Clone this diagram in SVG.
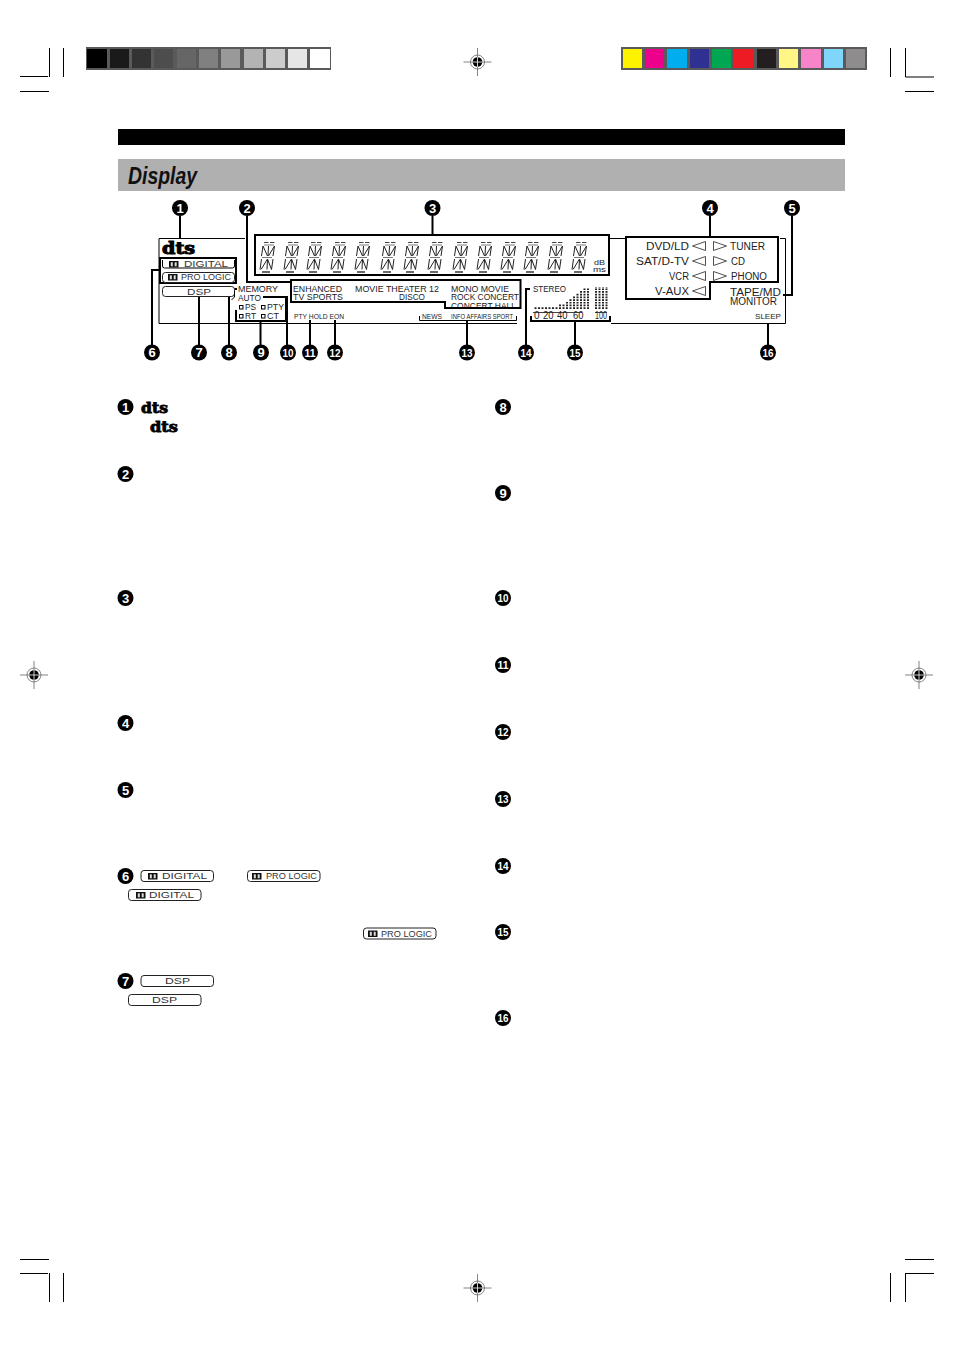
<svg xmlns="http://www.w3.org/2000/svg" xmlns:xlink="http://www.w3.org/1999/xlink" width="954" height="1351" viewBox="0 0 954 1351">
<style>
text{font-family:"Liberation Sans",Arial,sans-serif;fill:#222}
.n{font-size:9px}
.m{font-size:10px}
.s{font-size:8px}
.b{font-size:9.5px;fill:#333}
.nt{font-weight:700;font-size:13px;fill:#fff;text-anchor:middle}
.nd{font-weight:700;font-size:11px;fill:#fff;text-anchor:middle}
.dts{font-family:"DejaVu Serif","Liberation Serif",serif;font-weight:700;font-size:16px;fill:#000;stroke:#000;stroke-width:1}
.dts2{font-family:"DejaVu Serif","Liberation Serif",serif;font-weight:700;font-size:14px;fill:#000;stroke:#000;stroke-width:.8}
.ld{fill:none;stroke:#000;stroke-width:2}
.thin{fill:none;stroke:#000;stroke-width:1}
.box{fill:none;stroke:#000;stroke-width:2}
.crop{stroke:#000;stroke-width:1;fill:none}
.reg{stroke:#666;stroke-width:.8;fill:none}
.badge{fill:#fff;stroke:#222;stroke-width:1}
.tri{fill:#fff;stroke:#222;stroke-width:.8}
</style>
<defs>
<g id="digit" fill="none" stroke="#222" stroke-width="1">
<path d="M4 2.500h4.500M10 2.500h4.500" stroke-width="1.100" stroke="#444"/>
<path d="M4 5h10" stroke-width=".8" stroke="#555"/>
<path d="M3 6L1.500 16M8.500 6L8 16M14.500 6L13 16M3 6L7.500 16M14.500 6L8.500 16"/>
<path d="M2 17.500h10" stroke-width=".8" stroke="#555"/>
<path d="M1.500 19L0 29.500M7.500 19L7 29.500M13 19L11.500 29.500M7.500 19L1 29.500M7.500 19L11.500 29.500"/>
<path d="M2 32h8" stroke-width="1.600" stroke="#444"/>
</g>
<g id="dd">
<rect x="0" y="0" width="9.500" height="6.500" fill="#111"/>
<rect x="1.800" y="1.300" width="2" height="4" fill="#ddd"/>
<rect x="5.700" y="1.300" width="2" height="4" fill="#ddd"/>
</g>
<g id="regm">
<path class="reg" d="M-14 0H14M0 -14V14"/>
<circle class="reg" r="7"/>
<circle r="4.800" fill="#000"/>
<path d="M-5 0H5M0 -5V5" stroke="#fff" stroke-width=".8"/>
</g>
<clipPath id="hallclip"><rect x="445" y="300" width="75" height="7"/></clipPath>
</defs>
<rect width="954" height="1351" fill="#fff"/>

<g id="crop-marks">
<path class="crop" d="M20 76.500H48M49.500 48V77M63.500 48V77M20 91.500H49"/>
<path class="crop" d="M890.500 48V77M905.500 48V77H934M905 91.500H934"/>
<path class="crop" d="M20 1259.500H49M20 1273.500H48M49.500 1273V1302M63.500 1273V1302"/>
<path class="crop" d="M905 1259.500H934M905 1273.500H934M905.500 1273V1302M890.500 1273V1302"/>
</g>
<g id="registration-marks">
<use xlink:href="#regm" href="#regm" x="477.500" y="62"/>
<use xlink:href="#regm" href="#regm" x="34" y="675"/>
<use xlink:href="#regm" href="#regm" x="919" y="675"/>
<use xlink:href="#regm" href="#regm" x="477.500" y="1288"/>
</g>
<g id="gray-scale">
<rect x="86" y="47" width="245" height="23" fill="#5a5a5a"/>
<rect x="87" y="49" width="20" height="19" fill="#000"/>
<rect x="110" y="49" width="19" height="19" fill="#1a1a1a"/>
<rect x="132" y="49" width="19" height="19" fill="#333"/>
<rect x="154" y="49" width="19" height="19" fill="#4d4d4d"/>
<rect x="177" y="49" width="19" height="19" fill="#666"/>
<rect x="199" y="49" width="19" height="19" fill="#808080"/>
<rect x="221" y="49" width="19" height="19" fill="#999"/>
<rect x="244" y="49" width="19" height="19" fill="#b3b3b3"/>
<rect x="266" y="49" width="19" height="19" fill="#ccc"/>
<rect x="288" y="49" width="19" height="19" fill="#e6e6e6"/>
<rect x="310" y="49" width="20" height="19" fill="#fff"/>
</g>
<g id="color-scale">
<rect x="621" y="47" width="246" height="23" fill="#5a5a5a"/>
<rect x="623" y="49" width="19" height="19" fill="#fff200"/>
<rect x="645" y="49" width="19" height="19" fill="#ec008c"/>
<rect x="667" y="49" width="20" height="19" fill="#00aeef"/>
<rect x="690" y="49" width="19" height="19" fill="#2e3192"/>
<rect x="712" y="49" width="19" height="19" fill="#00a651"/>
<rect x="734" y="49" width="20" height="19" fill="#ed1c24"/>
<rect x="757" y="49" width="19" height="19" fill="#231f20"/>
<rect x="779" y="49" width="19" height="19" fill="#fff685"/>
<rect x="801" y="49" width="20" height="19" fill="#f783c8"/>
<rect x="824" y="49" width="19" height="19" fill="#7fd6fa"/>
<rect x="846" y="49" width="19" height="19" fill="#8e8c8d"/>
</g>
<g id="header">
<rect x="118" y="129" width="727" height="16" fill="#000"/>
<rect x="118" y="159" width="727" height="32" fill="#b0b0b0"/>
<text x="128" y="184" font-size="24" font-weight="700" font-style="italic" style="fill:#111" textLength="69" lengthAdjust="spacingAndGlyphs">Display</text>
</g>

<g id="connectors">
<path class="thin" d="M159 323.500V238.500H245M609 238.500H625M780 238.500H785.500V323.500H611M517 323.500H159"/>
<path class="ld" d="M180 216V238"/>
<path class="ld" d="M247 216V282H291"/>
<path class="ld" d="M432.500 216V235"/>
<path class="ld" d="M710 216V237"/>
<path class="ld" d="M792 216V295H783"/>
<path class="ld" d="M159 270H152V345"/>
<path class="ld" d="M199 297V345"/>
<path class="ld" d="M229 345V289H237"/>
<path class="ld" d="M260.500 321V345"/>
<path class="ld" d="M263 297H287V345"/>
<path class="ld" d="M310 320V345"/>
<path class="ld" d="M335 320V345"/>
<path class="ld" d="M467 321V345"/>
<path class="ld" d="M530 289H526V345"/>
<path class="ld" d="M575 321V345"/>
<path class="ld" d="M768 323V345"/>
</g>

<g id="display-panel">
<g id="digit-block">
<rect class="box" x="255" y="235" width="354" height="40"/>
<use xlink:href="#digit" href="#digit" x="260" y="240"/>
<use xlink:href="#digit" href="#digit" x="284" y="240"/>
<use xlink:href="#digit" href="#digit" x="307" y="240"/>
<use xlink:href="#digit" href="#digit" x="331" y="240"/>
<use xlink:href="#digit" href="#digit" x="355" y="240"/>
<use xlink:href="#digit" href="#digit" x="381" y="240"/>
<use xlink:href="#digit" href="#digit" x="404" y="240"/>
<use xlink:href="#digit" href="#digit" x="428" y="240"/>
<use xlink:href="#digit" href="#digit" x="453" y="240"/>
<use xlink:href="#digit" href="#digit" x="477" y="240"/>
<use xlink:href="#digit" href="#digit" x="501" y="240"/>
<use xlink:href="#digit" href="#digit" x="524" y="240"/>
<use xlink:href="#digit" href="#digit" x="548" y="240"/>
<use xlink:href="#digit" href="#digit" x="572" y="240"/>
<text class="s" x="594" y="265" textLength="11" lengthAdjust="spacingAndGlyphs">dB</text>
<text class="s" x="593" y="272" textLength="13" lengthAdjust="spacingAndGlyphs">ms</text>
</g>
<g id="format-block">
<rect x="160" y="258" width="76" height="25" fill="none" stroke="#000" stroke-width="2"/>
<text class="dts" x="162" y="254" textLength="33" lengthAdjust="spacingAndGlyphs">dts</text>
<path class="thin" d="M162.500 260v6q0 2 2 2h68q2 0 2-2v-6"/>
<use xlink:href="#dd" href="#dd" x="169" y="261"/>
<text class="b" x="184" y="267" textLength="44" lengthAdjust="spacingAndGlyphs">DIGITAL</text>
<rect class="badge" x="162.500" y="272.500" width="72" height="10" rx="3"/>
<use xlink:href="#dd" href="#dd" x="168" y="274"/>
<text class="b" x="181" y="280" textLength="50" lengthAdjust="spacingAndGlyphs" style="font-size:9px">PRO LOGIC</text>
<rect class="badge" x="162.500" y="286.500" width="72" height="10" rx="3"/>
<text class="b" x="187" y="294.500" textLength="24" lengthAdjust="spacingAndGlyphs">DSP</text>
</g>
<g id="memory-block">
<path class="thin" d="M234.500 291v6l-3 3"/>
<text class="n" x="238" y="292" textLength="40" lengthAdjust="spacingAndGlyphs">MEMORY</text>
<text class="n" x="238" y="301" textLength="23" lengthAdjust="spacingAndGlyphs">AUTO</text>
<path class="ld" d="M236 310V321H286V297"/>
<rect class="thin" x="239.500" y="305.500" width="3.500" height="3.500"/>
<rect class="thin" x="261.500" y="305.500" width="3.500" height="3.500"/>
<rect class="thin" x="239.500" y="314.500" width="3.500" height="3.500"/>
<rect class="thin" x="261.500" y="314.500" width="3.500" height="3.500"/>
<text class="n" x="245" y="310" textLength="11" lengthAdjust="spacingAndGlyphs">PS</text>
<text class="n" x="267" y="310" textLength="17" lengthAdjust="spacingAndGlyphs">PTY</text>
<text class="n" x="245" y="319" textLength="11" lengthAdjust="spacingAndGlyphs">RT</text>
<text class="n" x="267" y="319" textLength="12" lengthAdjust="spacingAndGlyphs">CT</text>
<text class="s" x="294" y="319" textLength="50" lengthAdjust="spacingAndGlyphs">PTY HOLD EON</text>
</g>
<g id="program-block">
<path class="box" d="M291 280H520.500V308H445V302H291Z"/>
<text class="n" x="293" y="292" textLength="49" lengthAdjust="spacingAndGlyphs">ENHANCED</text>
<text class="n" x="293" y="300" textLength="50" lengthAdjust="spacingAndGlyphs">TV SPORTS</text>
<text class="n" x="355" y="292" textLength="84" lengthAdjust="spacingAndGlyphs">MOVIE THEATER 12</text>
<text class="n" x="399" y="300" textLength="26" lengthAdjust="spacingAndGlyphs">DISCO</text>
<text class="n" x="451" y="292" textLength="58" lengthAdjust="spacingAndGlyphs">MONO MOVIE</text>
<text class="n" x="451" y="300" textLength="68" lengthAdjust="spacingAndGlyphs">ROCK CONCERT</text>
<text class="n" x="451" y="309" textLength="65" lengthAdjust="spacingAndGlyphs" clip-path="url(#hallclip)">CONCERT HALL</text>
<path class="thin" d="M419.500 316V320.500H516.500V316" stroke-width="1.500"/>
<text class="s" x="422" y="319" textLength="20" lengthAdjust="spacingAndGlyphs">NEWS</text>
<text class="s" x="451" y="319" textLength="62" lengthAdjust="spacingAndGlyphs">INFO AFFAIRS SPORT</text>
</g>
<g id="meter-block">
<text class="n" x="533" y="292" textLength="33" lengthAdjust="spacingAndGlyphs">STEREO</text>
<path d="M535.500 309V306.500M539 309V306.500M542.500 309V306.500M546 309V306.500M549.500 309V306.500M553 309V306.500M556.500 309V306.500M560 309V304M563.500 309V304M567 309V301.500M570.500 309V298.500M574 309V296M577.500 309V293.500M581 309V291M584.500 309V288.500M588 309V288.500M596 309V287M599.500 309V287M603 309V287M606.500 309V287" fill="none" stroke="#222" stroke-width="2" stroke-dasharray="1.700 1"/>
<path d="M533 312.500H582M595 312.500H607" stroke="#444" stroke-width="1"/>
<text class="m" x="534" y="319">0</text>
<text class="m" x="543" y="319" textLength="10.500" lengthAdjust="spacingAndGlyphs">20</text>
<text class="m" x="557" y="319" textLength="10.500" lengthAdjust="spacingAndGlyphs">40</text>
<text class="m" x="573" y="319" textLength="10.500" lengthAdjust="spacingAndGlyphs">60</text>
<text class="m" x="595" y="319" textLength="12" lengthAdjust="spacingAndGlyphs">100</text>
<path class="ld" d="M531 316V321H610V316"/>
</g>
<g id="input-block">
<path class="box" d="M626 237H778V282H710V299H626Z"/>
<text class="m" x="646" y="250" textLength="43" lengthAdjust="spacingAndGlyphs">DVD/LD</text>
<text class="m" x="636" y="265" textLength="53" lengthAdjust="spacingAndGlyphs">SAT/D-TV</text>
<text class="m" x="669" y="280" textLength="20" lengthAdjust="spacingAndGlyphs">VCR</text>
<text class="m" x="655" y="295" textLength="34" lengthAdjust="spacingAndGlyphs">V-AUX</text>
<path class="tri" d="M692.500 246L705.500 241.500V250.500Z"/>
<path class="tri" d="M692.500 261L705.500 256.500V265.500Z"/>
<path class="tri" d="M692.500 276L705.500 271.500V280.500Z"/>
<path class="tri" d="M692.500 291L705.500 286.500V295.500Z"/>
<path class="tri" d="M726.500 246L713.500 241.500V250.500Z"/>
<path class="tri" d="M726.500 261L713.500 256.500V265.500Z"/>
<path class="tri" d="M726.500 276L713.500 271.500V280.500Z"/>
<text class="m" x="730" y="250" textLength="35" lengthAdjust="spacingAndGlyphs">TUNER</text>
<text class="m" x="731" y="265" textLength="14" lengthAdjust="spacingAndGlyphs">CD</text>
<text class="m" x="731" y="280" textLength="36" lengthAdjust="spacingAndGlyphs">PHONO</text>
<text class="m" x="730" y="296" textLength="51" lengthAdjust="spacingAndGlyphs">TAPE/MD</text>
<text class="m" x="730" y="305" textLength="47" lengthAdjust="spacingAndGlyphs">MONITOR</text>
<text class="s" x="755" y="319" textLength="26" lengthAdjust="spacingAndGlyphs">SLEEP</text>
</g>
</g>

<g id="callouts">
<g id="c1"><circle cx="180" cy="208" r="8"/><text class="nt" x="180" y="212.700">1</text></g>
<g id="c2"><circle cx="247" cy="208" r="8"/><text class="nt" x="247" y="212.700">2</text></g>
<g id="c3"><circle cx="432.500" cy="208" r="8"/><text class="nt" x="432.500" y="212.700">3</text></g>
<g id="c4"><circle cx="710" cy="208" r="8"/><text class="nt" x="710" y="212.700">4</text></g>
<g id="c5"><circle cx="792" cy="208" r="8"/><text class="nt" x="792" y="212.700">5</text></g>
<g id="c6"><circle cx="152" cy="352.500" r="8"/><text class="nt" x="152" y="357.200">6</text></g>
<g id="c7"><circle cx="199" cy="352.500" r="8"/><text class="nt" x="199" y="357.200">7</text></g>
<g id="c8"><circle cx="229" cy="352.500" r="8"/><text class="nt" x="229" y="357.200">8</text></g>
<g id="c9"><circle cx="261" cy="352.500" r="8"/><text class="nt" x="261" y="357.200">9</text></g>
<g id="c10"><circle cx="288" cy="352.500" r="8"/><text class="nd" x="288" y="356.500" textLength="11" lengthAdjust="spacingAndGlyphs">10</text></g>
<g id="c11"><circle cx="310" cy="352.500" r="8"/><text class="nd" x="310" y="356.500" textLength="11" lengthAdjust="spacingAndGlyphs">11</text></g>
<g id="c12"><circle cx="335" cy="352.500" r="8"/><text class="nd" x="335" y="356.500" textLength="11" lengthAdjust="spacingAndGlyphs">12</text></g>
<g id="c13"><circle cx="467" cy="352.500" r="8"/><text class="nd" x="467" y="356.500" textLength="11" lengthAdjust="spacingAndGlyphs">13</text></g>
<g id="c14"><circle cx="526" cy="352.500" r="8"/><text class="nd" x="526" y="356.500" textLength="11" lengthAdjust="spacingAndGlyphs">14</text></g>
<g id="c15"><circle cx="575" cy="352.500" r="8"/><text class="nd" x="575" y="356.500" textLength="11" lengthAdjust="spacingAndGlyphs">15</text></g>
<g id="c16"><circle cx="768" cy="352.500" r="8"/><text class="nd" x="768" y="356.500" textLength="11" lengthAdjust="spacingAndGlyphs">16</text></g>
</g>

<g id="body-left">
<g id="b1"><circle cx="125.500" cy="407" r="8"/><text class="nt" x="125.500" y="411.700">1</text></g>
<text class="dts2" x="141" y="412.500" textLength="27" lengthAdjust="spacingAndGlyphs">dts</text>
<text class="dts2" x="150" y="431.500" textLength="28" lengthAdjust="spacingAndGlyphs">dts</text>
<g id="b2"><circle cx="125.500" cy="474" r="8"/><text class="nt" x="125.500" y="478.700">2</text></g>
<g id="b3"><circle cx="125.500" cy="598" r="8"/><text class="nt" x="125.500" y="602.700">3</text></g>
<g id="b4"><circle cx="125.500" cy="723" r="8"/><text class="nt" x="125.500" y="727.700">4</text></g>
<g id="b5"><circle cx="125.500" cy="790" r="8"/><text class="nt" x="125.500" y="794.700">5</text></g>
<g id="b6"><circle cx="125.500" cy="876" r="8"/><text class="nt" x="125.500" y="880.700">6</text></g>
<g id="b7"><circle cx="125.500" cy="981" r="8"/><text class="nt" x="125.500" y="985.700">7</text></g>
<rect class="badge" x="141" y="870.500" width="72.500" height="11" rx="3"/>
<use xlink:href="#dd" href="#dd" x="148" y="873"/>
<text class="b" x="162" y="879.300" textLength="45" lengthAdjust="spacingAndGlyphs">DIGITAL</text>
<rect class="badge" x="247.500" y="870.500" width="72.500" height="11" rx="3"/>
<use xlink:href="#dd" href="#dd" x="252" y="873"/>
<text class="b" x="266" y="879.300" textLength="51" lengthAdjust="spacingAndGlyphs">PRO LOGIC</text>
<rect class="badge" x="128.500" y="889.500" width="72.500" height="11" rx="3"/>
<use xlink:href="#dd" href="#dd" x="136" y="892"/>
<text class="b" x="149" y="898.300" textLength="45" lengthAdjust="spacingAndGlyphs">DIGITAL</text>
<rect class="badge" x="363.500" y="928" width="72.500" height="11" rx="3"/>
<use xlink:href="#dd" href="#dd" x="368" y="930.500"/>
<text class="b" x="381" y="936.800" textLength="51" lengthAdjust="spacingAndGlyphs">PRO LOGIC</text>
<rect class="badge" x="141" y="975.500" width="72.500" height="11" rx="3"/>
<text class="b" x="165" y="984.300" textLength="25" lengthAdjust="spacingAndGlyphs">DSP</text>
<rect class="badge" x="128.500" y="994.500" width="72.500" height="11" rx="3"/>
<text class="b" x="152" y="1003.300" textLength="25" lengthAdjust="spacingAndGlyphs">DSP</text>
</g>

<g id="body-right">
<g id="b8"><circle cx="503" cy="407" r="8"/><text class="nt" x="503" y="411.700">8</text></g>
<g id="b9"><circle cx="503" cy="493" r="8"/><text class="nt" x="503" y="497.700">9</text></g>
<g id="b10"><circle cx="503" cy="598" r="8"/><text class="nd" x="503" y="602" textLength="11" lengthAdjust="spacingAndGlyphs">10</text></g>
<g id="b11"><circle cx="503" cy="665" r="8"/><text class="nd" x="503" y="669" textLength="11" lengthAdjust="spacingAndGlyphs">11</text></g>
<g id="b12"><circle cx="503" cy="732" r="8"/><text class="nd" x="503" y="736" textLength="11" lengthAdjust="spacingAndGlyphs">12</text></g>
<g id="b13"><circle cx="503" cy="799" r="8"/><text class="nd" x="503" y="803" textLength="11" lengthAdjust="spacingAndGlyphs">13</text></g>
<g id="b14"><circle cx="503" cy="866" r="8"/><text class="nd" x="503" y="870" textLength="11" lengthAdjust="spacingAndGlyphs">14</text></g>
<g id="b15"><circle cx="503" cy="932" r="8"/><text class="nd" x="503" y="936" textLength="11" lengthAdjust="spacingAndGlyphs">15</text></g>
<g id="b16"><circle cx="503" cy="1018" r="8"/><text class="nd" x="503" y="1022" textLength="11" lengthAdjust="spacingAndGlyphs">16</text></g>
</g>
</svg>
